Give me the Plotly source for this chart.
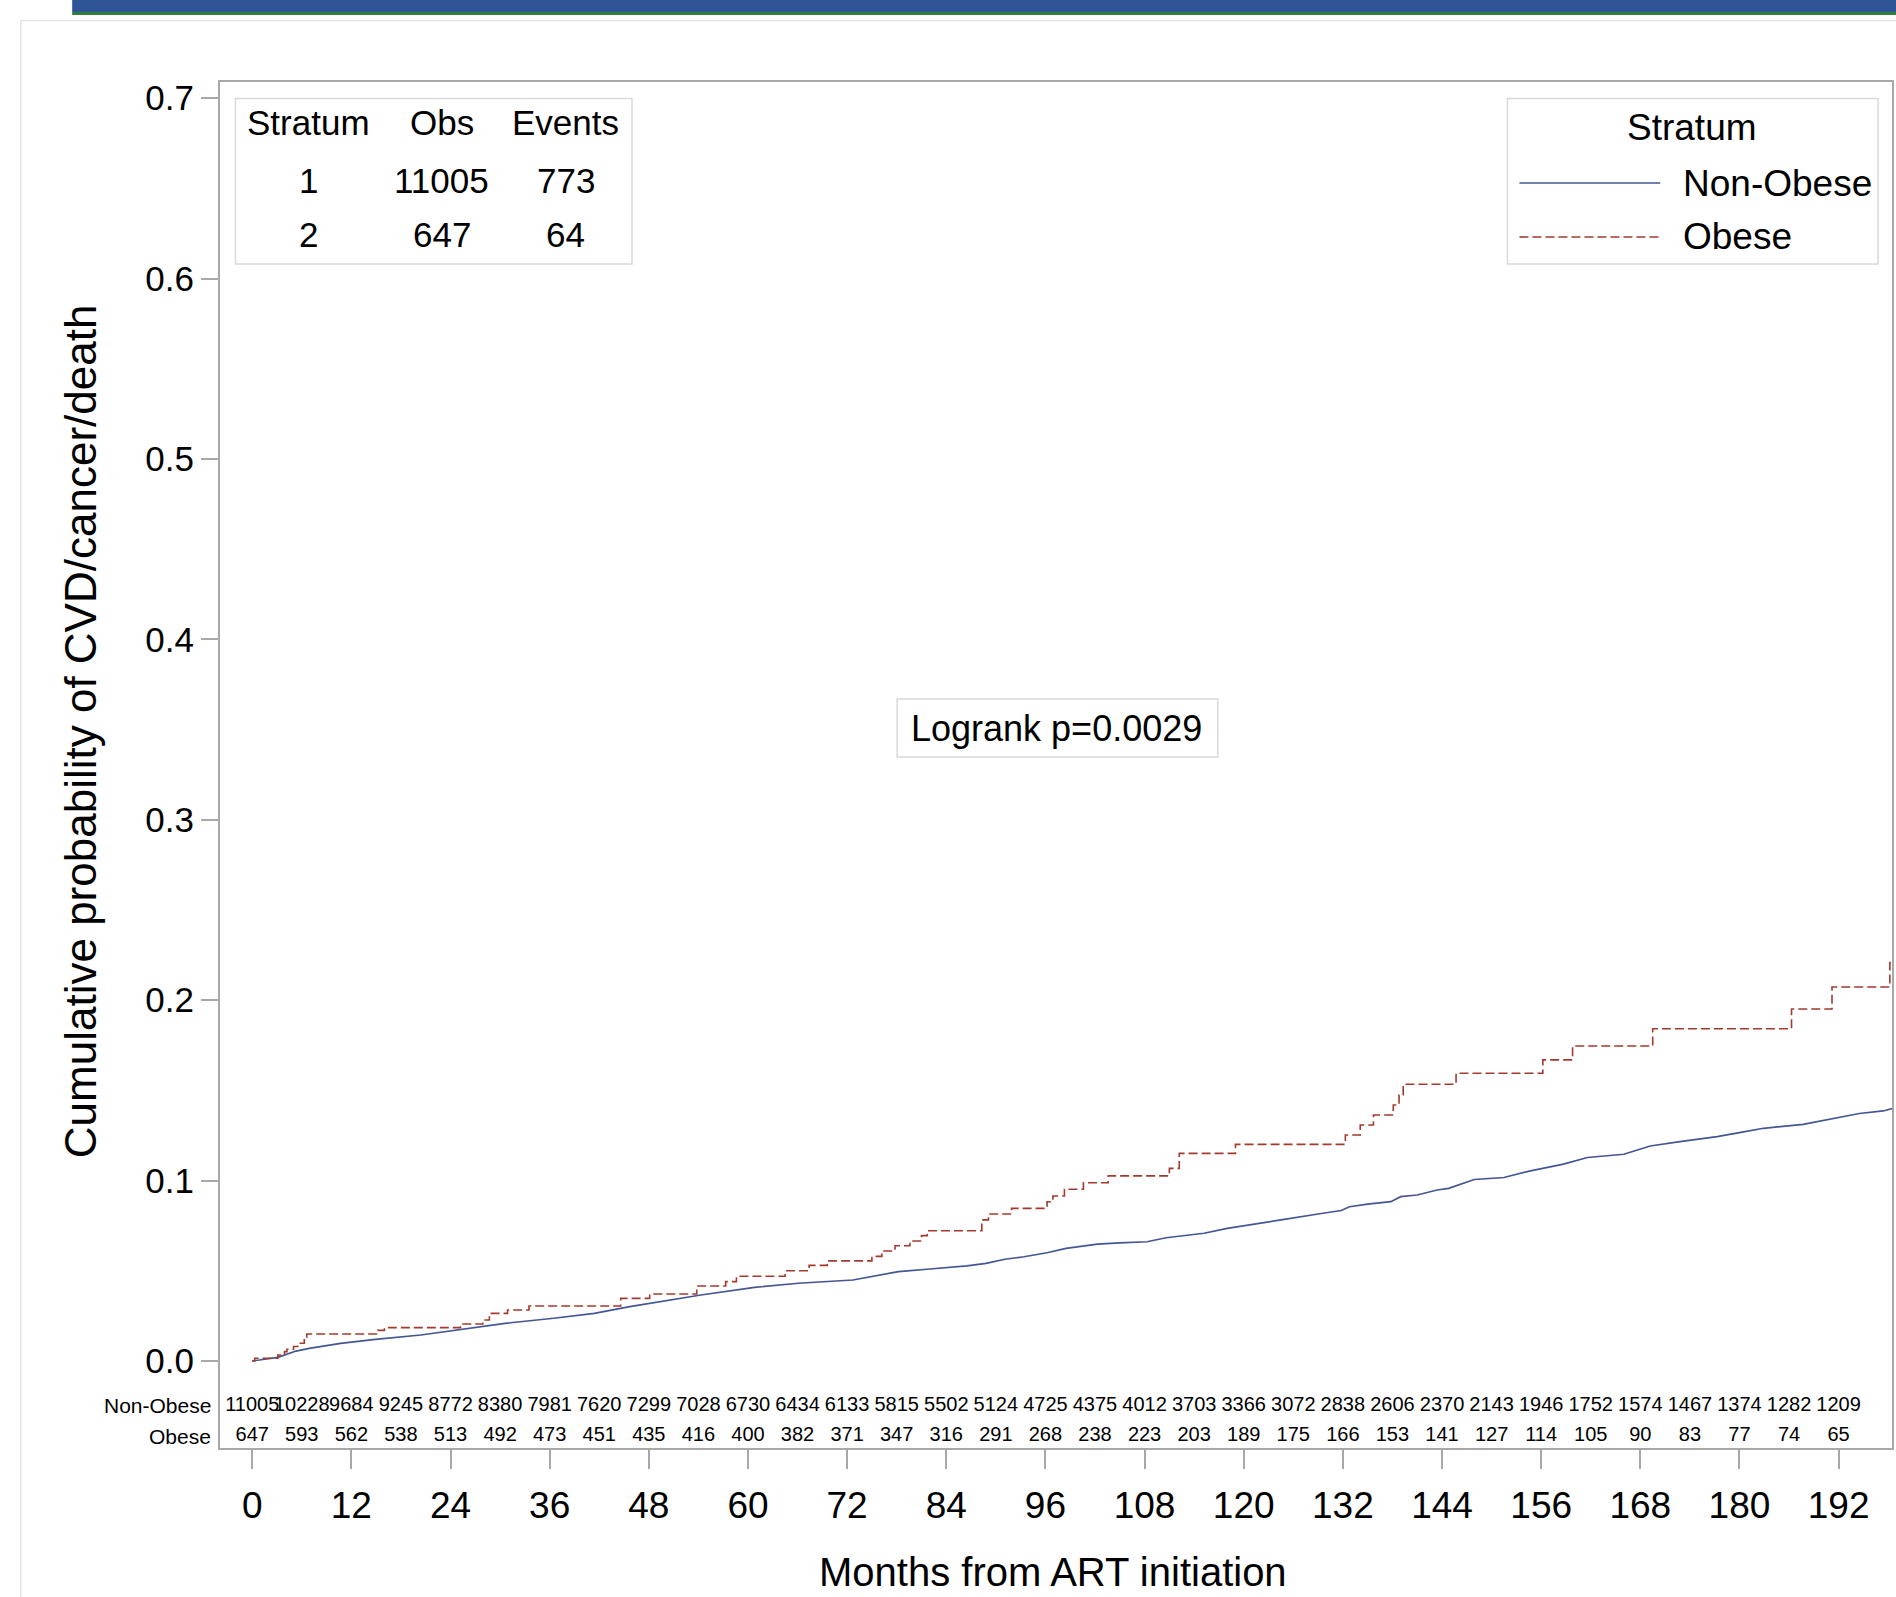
import plotly.graph_objects as go

# ---------------- data ----------------
obese_t = [0, 0.3, 3.1, 3.9, 4.2, 5.0, 5.5, 6.3, 6.6, 15.2, 16.0, 25.2, 27.9, 28.7, 30.9, 33.5,
           44.6, 48.1, 53.8, 57.3, 58.6, 64.5, 67.4, 69.6, 75.0, 76.2, 77.8, 79.6, 81.0, 81.7,
           88.3, 89.1, 91.9, 96.2, 96.9, 98.3, 100.6, 103.6, 111.0, 112.2, 119.0, 132.3, 134.1,
           135.7, 138.1, 138.8, 139.3, 145.7, 156.2, 159.8, 169.5, 186.3, 191.2, 198.2, 198.6]
obese_p = [0.0, 0.0015, 0.0033, 0.0052, 0.0065, 0.0080, 0.0098, 0.0131, 0.0150, 0.0170, 0.0185,
           0.0205, 0.0227, 0.0264, 0.0283, 0.0305, 0.0347, 0.0371, 0.0416, 0.0440, 0.0470, 0.0500,
           0.0530, 0.0555, 0.0580, 0.0610, 0.0639, 0.0665, 0.0695, 0.0722, 0.0782, 0.0815, 0.0846,
           0.0883, 0.0915, 0.0952, 0.0988, 0.1026, 0.1068, 0.1151, 0.1201, 0.1253, 0.1308, 0.1364,
           0.1419, 0.1475, 0.1534, 0.1595, 0.1669, 0.1746, 0.1842, 0.1951, 0.2073, 0.2208, 0.2208]

nonobese_t = [0, 1.5, 3.1, 5.3, 6.9, 10.7, 14.9, 20.4, 25.2, 30.6, 36.5, 41.4, 45.7, 50, 54.3,
              60.8, 66.1, 72.7, 75.5, 78.2, 82, 86.5, 88.8, 91.1, 93.4, 96.2, 98.5, 102.3, 105,
              108.3, 110.6, 115.2, 118, 122.1, 124.9, 129, 131.8, 132.8, 135, 137.8, 139, 141,
              143.4, 144.8, 147.9, 151.5, 154.7, 158.7, 161.6, 166, 169.2, 172.8, 177.3, 180,
              182.9, 187.7, 191, 194.5, 197.4, 198.6]
nonobese_p = [0, 0.001, 0.002, 0.0055, 0.007, 0.0098, 0.012, 0.0144, 0.0176, 0.0209, 0.0237,
              0.0264, 0.0301, 0.0334, 0.0366, 0.0408, 0.0431, 0.0449, 0.0472, 0.0495, 0.051,
              0.0527, 0.0541, 0.0564, 0.0578, 0.06, 0.0624, 0.0648, 0.0655, 0.0661, 0.0683,
              0.0708, 0.0735, 0.0767, 0.0785, 0.0815, 0.0834, 0.0855, 0.087, 0.0883, 0.0911,
              0.092, 0.0948, 0.0957, 0.1006, 0.1017, 0.1054, 0.1091, 0.1128, 0.1146, 0.1192,
              0.1216, 0.1244, 0.1266, 0.129, 0.1312, 0.134, 0.1372, 0.1386, 0.14]

risk_months = list(range(0, 193, 6))
risk_nonobese = [11005, 10228, 9684, 9245, 8772, 8380, 7981, 7620, 7299, 7028, 6730, 6434, 6133,
                 5815, 5502, 5124, 4725, 4375, 4012, 3703, 3366, 3072, 2838, 2606, 2370, 2143,
                 1946, 1752, 1574, 1467, 1374, 1282, 1209]
risk_obese = [647, 593, 562, 538, 513, 492, 473, 451, 435, 416, 400, 382, 371, 347, 316, 291, 268,
              238, 223, 203, 189, 175, 166, 153, 141, 127, 114, 105, 90, 83, 77, 74, 65]

x_ticks = list(range(0, 193, 12))
y_ticks = [0.0, 0.1, 0.2, 0.3, 0.4, 0.5, 0.6, 0.7]

stratum_table = [["Stratum", "Obs", "Events"], ["1", "11005", "773"], ["2", "647", "64"]]
legend_names = ["Non-Obese", "Obese"]
logrank_text = "Logrank p=0.0029"

# ---------------- style ----------------
W, H = 1896, 1597
ML, MR, MT, MB = 220, 2, 82, 149
PW, PH = W - ML - MR, H - MT - MB
SANS = "Liberation Sans, Arial, sans-serif"
BLUE = "#445694"
RED = "#A23A2E"
GRAY = "#a8a8a8"
BOXGRAY = "#d9d9d9"


def px(xp):
    return (xp - ML) / PW


def py(yp):
    return (H - MB - yp) / PH


fig = go.Figure()

fig.add_trace(go.Scatter(x=nonobese_t, y=nonobese_p, mode="lines", line_shape="linear",
                         line=dict(color=BLUE, width=1.7), name=legend_names[0],
                         showlegend=False))
fig.add_trace(go.Scatter(x=obese_t, y=obese_p, mode="lines", line_shape="hv",
                         line=dict(color=RED, width=1.6, dash="9px,4px"), name=legend_names[1],
                         showlegend=False))

# at-risk rows
row_y = [-0.0249, -0.0416]
for vals, yv in zip([risk_nonobese, risk_obese], row_y):
    fig.add_trace(go.Scatter(x=risk_months, y=[yv] * len(vals), mode="text",
                             text=[str(v) for v in vals], textposition="middle center",
                             textfont=dict(family=SANS, size=20, color="black"),
                             cliponaxis=False, showlegend=False, hoverinfo="skip"))

annotations = []
for name, yv in zip(legend_names, row_y):
    annotations.append(dict(x=px(213), y=yv, xref="paper", yref="y", text=name, showarrow=False,
                            xanchor="right", yanchor="middle",
                            font=dict(family=SANS, size=21, color="black")))

# axis titles
annotations.append(dict(x=px(1054), y=py(1572), xref="paper", yref="paper",
                        text="Months from ART initiation", showarrow=False,
                        xanchor="center", yanchor="middle",
                        font=dict(family=SANS, size=40, color="black")))
annotations.append(dict(x=px(80), y=py(731), xref="paper", yref="paper",
                        text="Cumulative probability of CVD/cancer/death", showarrow=False,
                        textangle=-90, xanchor="center", yanchor="middle",
                        font=dict(family=SANS, size=44, color="black")))

# stratum table
col_x = [309, 442, 566]
row_yp = [123, 180, 235]
for r, row in enumerate(stratum_table):
    for c, cell in enumerate(row):
        annotations.append(dict(x=px(col_x[c]), y=py(row_yp[r]), xref="paper", yref="paper",
                                text=cell, showarrow=False, xanchor="center", yanchor="middle",
                                font=dict(family=SANS, size=35, color="black")))

# legend
annotations.append(dict(x=px(1694), y=py(127), xref="paper", yref="paper", text="Stratum",
                        showarrow=False, xanchor="center", yanchor="middle",
                        font=dict(family=SANS, size=37, color="black")))
for name, yl in zip(legend_names, [183, 237]):
    annotations.append(dict(x=px(1683), y=py(yl), xref="paper", yref="paper", text=name,
                            showarrow=False, xanchor="left", yanchor="middle",
                            font=dict(family=SANS, size=37, color="black")))

# logrank
annotations.append(dict(x=px(1058), y=py(728), xref="paper", yref="paper", text=logrank_text,
                        showarrow=False, xanchor="center", yanchor="middle",
                        font=dict(family=SANS, size=36, color="black")))

shapes = [
    # banner
    dict(type="rect", xref="paper", yref="paper", x0=px(72), x1=px(1900), y0=py(-5), y1=py(12),
         fillcolor="#2f5597", line=dict(width=0), layer="above"),
    dict(type="rect", xref="paper", yref="paper", x0=px(72), x1=px(1900), y0=py(12), y1=py(15),
         fillcolor="#2e7d3a", line=dict(width=0), layer="above"),
    # card border
    dict(type="line", xref="paper", yref="paper", x0=px(20.5), x1=px(1900), y0=py(20.5), y1=py(20.5),
         line=dict(color="#e4e4e4", width=1.5)),
    dict(type="line", xref="paper", yref="paper", x0=px(20.5), x1=px(20.5), y0=py(20.5), y1=py(1600),
         line=dict(color="#e4e4e4", width=1.5)),
    # stratum table box
    dict(type="rect", xref="paper", yref="paper", x0=px(235.5), x1=px(632.5), y0=py(98.5), y1=py(264),
         line=dict(color=BOXGRAY, width=1.5), fillcolor="white", layer="below"),
    # legend box
    dict(type="rect", xref="paper", yref="paper", x0=px(1509), x1=px(1880), y0=py(98.5), y1=py(264),
         line=dict(color=BOXGRAY, width=1.5), fillcolor="white", layer="below"),
    dict(type="line", xref="paper", yref="paper", x0=px(1521), x1=px(1662), y0=py(183), y1=py(183),
         line=dict(color=BLUE, width=1.6)),
    dict(type="line", xref="paper", yref="paper", x0=px(1521), x1=px(1662), y0=py(237), y1=py(237),
         line=dict(color=RED, width=1.6, dash="9px,4px")),
    # logrank box
    dict(type="rect", xref="paper", yref="paper", x0=px(898), x1=px(1219), y0=py(699), y1=py(757),
         line=dict(color=BOXGRAY, width=1.5), fillcolor="white", layer="below"),
]

fig.update_layout(
    width=W, height=H, autosize=False,
    margin=dict(l=ML, r=MR, t=MT, b=MB, pad=0),
    paper_bgcolor="white", plot_bgcolor="white",
    showlegend=False,
    annotations=annotations, shapes=shapes,
    xaxis=dict(range=[-3.90, 198.46], tickvals=x_ticks, ticktext=[str(v) for v in x_ticks],
               ticks="outside", ticklen=19, tickwidth=1.5, tickcolor=GRAY,
               ticklabelstandoff=5,
               tickfont=dict(family=SANS, size=37, color="black"),
               showgrid=False, zeroline=False, showline=True, mirror=True,
               linecolor=GRAY, linewidth=2),
    yaxis=dict(range=[-0.04823, 0.70898], tickvals=y_ticks, ticktext=[f"{v:.1f}" for v in y_ticks],
               ticks="outside", ticklen=17, tickwidth=1.5, tickcolor=GRAY,
               tickfont=dict(family=SANS, size=35, color="black"),
               showgrid=False, zeroline=False, showline=True, mirror=True,
               linecolor=GRAY, linewidth=2),
)

fig.write_html("out.html", config={"displayModeBar": False},
               post_script="document.body.style.margin='0px';")
